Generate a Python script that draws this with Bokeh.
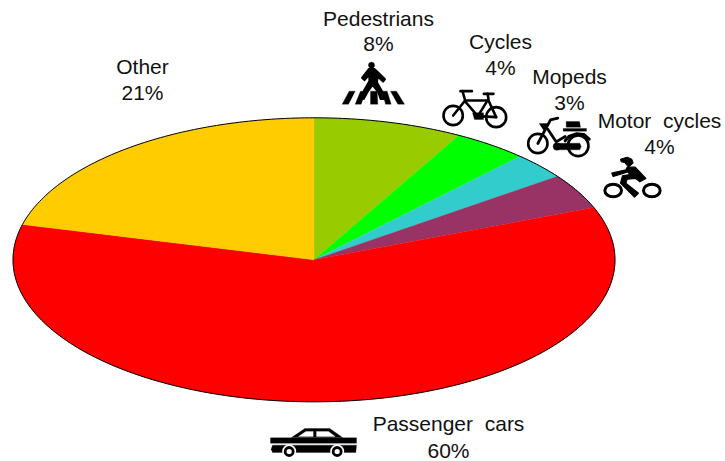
from math import sin, cos, pi
from bokeh.plotting import figure
from bokeh.models import Range1d
from bokeh.core.properties import value
from bokeh.embed import file_html
from bokeh.resources import INLINE

categories = ["Pedestrians", "Cycles", "Mopeds", "Motor\u00a0 cycles", "Passenger\u00a0 cars", "Other"]
shares = [8, 4, 3, 4, 60, 21]
colors = ["#99CC00", "#00FF00", "#33CCCC", "#993366", "#FF0000", "#FFCC00"]
label_pos = [(378, 18, 43), (500, 41, 67), (569, 76, 102), (659, 120, 146), (448, 423, 450), (142, 66, 92)]

CX, CY, RX, RY = 313.5, 259.3, 301, 142

p = figure(width=725, height=461, output_backend="svg", toolbar_location=None,
           x_range=Range1d(0, 725), y_range=Range1d(461, 0), min_border=0, outline_line_color=None)
p.axis.visible = False
p.grid.visible = False
p.background_fill_color = "white"

# pie: each share sweeps an angle of the ellipse, clockwise from the top
total = sum(shares)
start = 0.0
rim_x, rim_y = [], []
for share, col in zip(shares, colors):
    end = start + share / total * 2 * pi
    n = max(3, int(share * 4))
    ts = [start + (end - start) * i / n for i in range(n + 1)]
    xs = [CX + RX * sin(t) for t in ts]
    ys = [CY - RY * cos(t) for t in ts]
    p.patch([CX] + xs, [CY] + ys, fill_color=col, line_color=col, line_width=0.3)
    rim_x += xs
    rim_y += ys
    start = end
p.line(rim_x, rim_y, line_color="black", line_width=1)

for name, share, (x, y1, y2) in zip(categories, shares, label_pos):
    for txt, y in ((name, y1), (f"{share}%", y2)):
        p.text([x], [y], text=[txt], text_font=value("Liberation Sans"), text_font_size="21px",
               text_color="#111111", text_align="center", text_baseline="middle")


def tr(origin, pts):
    ox, oy = origin
    return [ox + a / 3 for a, _ in pts], [oy + b / 3 for _, b in pts]


def poly(origin, pts, color="black", w=0.3):
    xs, ys = tr(origin, pts)
    p.patch(xs, ys, fill_color=color, line_color=color, line_width=w, line_join="round")


def stroke(origin, pts, w=2.6, color="black"):
    xs, ys = tr(origin, pts)
    p.line(xs, ys, line_color=color, line_width=w, line_cap="round", line_join="round")


def ring(origin, c, rx, ry=None, w=2.6, fill=None, color="black"):
    ry = rx if ry is None else ry
    ox, oy = origin
    p.ellipse([ox + c[0] / 3], [oy + c[1] / 3], width=2 * rx / 3, height=2 * ry / 3,
              fill_color=fill, fill_alpha=1 if fill else 0, line_color=color, line_width=w)


# pedestrian crossing
o = (340, 58)
for s in ([(26, 98), (44, 98), (24, 137), (5, 137)], [(60, 98), (76, 98), (62, 137), (44, 137)],
          [(90, 98), (110, 98), (112, 137), (90, 137)], [(125, 98), (140, 98), (152, 137), (135, 137)],
          [(150, 98), (168, 98), (192, 137), (172, 137)]):
    poly(o, s)
ring(o, (93, 20), 9, w=0.5, fill="black")
poly(o, [(85, 31), (102, 31), (112, 40), (134, 62), (128, 70), (112, 55), (110, 72), (125, 98), (132, 122), (120, 122),
         (112, 100), (96, 80), (82, 100), (70, 122), (60, 118), (72, 92), (86, 68), (86, 50), (72, 66), (64, 58)], w=1.6)

# bicycle
o = (438, 85)
ring(o, (44, 90), 29)
ring(o, (173, 95), 30)
for s in ([(44, 90), (80, 45), (72, 17)], [(66, 17), (100, 17)], [(80, 45), (150, 45)], [(80, 48), (118, 92)],
          [(118, 92), (150, 40), (147, 25)], [(136, 25), (165, 25)], [(150, 45), (173, 95)], [(118, 92), (173, 95)]):
    stroke(o, s)
poly(o, [(102, 82), (135, 82), (135, 102), (108, 102)])

# moped
o = (524, 112)
ring(o, (40, 93), 29)
ring(o, (161, 100), 31)
for s in ([(40, 93), (78, 22), (100, 17)], [(70, 50), (95, 88), (122, 72)]):
    stroke(o, s, 2.8)
poly(o, [(44, 33), (72, 33), (60, 57)])
poly(o, [(125, 27), (165, 27), (168, 44), (125, 44)])
poly(o, [(116, 48), (186, 48), (186, 56), (116, 56)])
stroke(o, [(122, 85), (133, 72), (155, 64), (178, 66), (194, 80)], 3)
ring(o, (97, 102), 11, w=0.5, fill="black")
poly(o, [(100, 92), (166, 92), (170, 102), (166, 112), (100, 112)])

# motor cycle
o = (596, 152)
ring(o, (50, 114), 25, 19, w=3)
ring(o, (166, 114), 25, 19, w=3)
poly(o, [(72, 20), (92, 14), (106, 20), (110, 32), (96, 44), (84, 30), (74, 28)], w=1)
poly(o, [(92, 44), (116, 44), (148, 78), (130, 88), (118, 78), (92, 80), (88, 92), (126, 122), (114, 134), (72, 92), (78, 70),
         (100, 66), (94, 58), (50, 72), (46, 62), (88, 52)], w=1.2)

# car
o = (266, 422)
poly(o, [(75, 45), (115, 18), (190, 18), (228, 45)])
poly(o, [(96, 42), (118, 27), (140, 27), (140, 42)], "white")
poly(o, [(150, 27), (186, 27), (206, 42), (150, 42)], "white")
poly(o, [(12, 46), (270, 46), (270, 62), (12, 62)])
poly(o, [(18, 68), (270, 68), (268, 90), (18, 90), (14, 80)])
for c in ((68, 87), (212, 87)):
    ring(o, c, 21, w=0.1, fill="white", color="white")
    ring(o, c, 12, w=2.8, fill="white")

open("out.html", "w").write(file_html(p, INLINE))
